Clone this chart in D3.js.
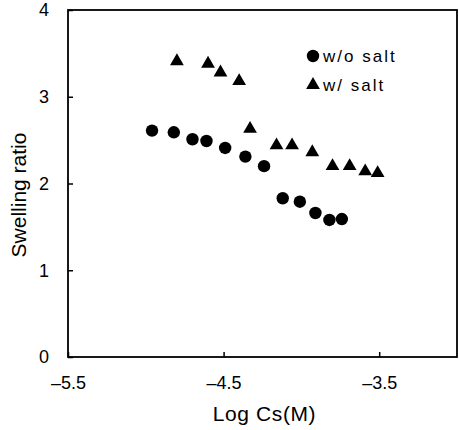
<!DOCTYPE html>
<html>
<head>
<meta charset="utf-8">
<script src="https://cdn.jsdelivr.net/npm/d3@7"></script>
<style>
  html, body { margin: 0; padding: 0; background: #fff; }
  svg { display: block; font-family: "Liberation Sans", Arial, Helvetica, sans-serif; }
</style>
</head>
<body>
<svg id="chart" width="459" height="430"></svg>
<script>
// Swelling ratio vs. log salt concentration
const logCsNoSalt = [-4.96, -4.82, -4.70, -4.61, -4.49, -4.36, -4.24, -4.12, -4.01, -3.91, -3.82, -3.74];
const ratioNoSalt = [2.61, 2.59, 2.51, 2.49, 2.41, 2.31, 2.20, 1.83, 1.79, 1.66, 1.58, 1.59];

const logCsSalt = [-4.80, -4.60, -4.52, -4.40, -4.33, -4.16, -4.06, -3.93, -3.80, -3.69, -3.59, -3.51];
const ratioSalt = [3.41, 3.38, 3.28, 3.18, 2.63, 2.44, 2.44, 2.36, 2.20, 2.20, 2.14, 2.12];

const xTicks = [-5.5, -4.5, -3.5];
const yTicks = [0, 1, 2, 3, 4];
const legendLabels = ["w/o salt", "w/ salt"];

const svg = d3.select("#chart");
const plotLeft = 68, plotRight = 457, plotTop = 10, plotBottom = 357;

const x = d3.scaleLinear().domain([-5.5, -3.0]).range([plotLeft, plotRight]);
const y = d3.scaleLinear().domain([0, 4]).range([plotBottom, plotTop]);

// frame
svg.append("rect")
  .attr("x", plotLeft).attr("y", plotTop)
  .attr("width", plotRight - plotLeft).attr("height", plotBottom - plotTop)
  .attr("fill", "none").attr("stroke", "#000").attr("stroke-width", 1.8);

// x axis: inward ticks, labels below
const fmt = d => d3.format(".1f")(d).replace(/[-\u2212]/, "\u2013");
const xAxis = svg.append("g").attr("transform", `translate(0,${plotBottom})`)
  .call(d3.axisBottom(x).tickValues(xTicks).tickSizeInner(-5).tickSizeOuter(0).tickPadding(19).tickFormat(fmt));
xAxis.select(".domain").remove();
xAxis.selectAll("line").attr("stroke", "#000").attr("stroke-width", 1.5);
xAxis.selectAll("text").attr("font-size", 18).attr("fill", "#000")
  .attr("font-family", "'Liberation Sans', Arial, sans-serif");

// y axis: inward ticks, labels left
const yAxis = svg.append("g").attr("transform", `translate(${plotLeft},0)`)
  .call(d3.axisLeft(y).tickValues(yTicks).tickSizeInner(-5).tickSizeOuter(0).tickPadding(19).tickFormat(d3.format("d")));
yAxis.select(".domain").remove();
yAxis.selectAll("line").attr("stroke", "#000").attr("stroke-width", 1.5);
yAxis.selectAll("text").attr("font-size", 18).attr("fill", "#000")
  .attr("font-family", "'Liberation Sans', Arial, sans-serif");

// axis titles
svg.append("text")
  .attr("x", (plotLeft + plotRight) / 2 + 2).attr("y", 421)
  .attr("text-anchor", "middle").attr("font-size", 21).attr("letter-spacing", 0.6)
  .text("Log Cs(M)");

svg.append("text")
  .attr("transform", `translate(25.5,195) rotate(-90)`)
  .attr("text-anchor", "middle").attr("font-size", 21)
  .text("Swelling ratio");

// series
const noSalt = logCsNoSalt.map((v, i) => ({ x: v, y: ratioNoSalt[i] }));
const salt = logCsSalt.map((v, i) => ({ x: v, y: ratioSalt[i] }));

svg.append("g").selectAll("circle").data(noSalt).join("circle")
  .attr("cx", d => x(d.x)).attr("cy", d => y(d.y)).attr("r", 6.2).attr("fill", "#000");

const tri = d3.symbol().type(d3.symbolTriangle).size(82);
svg.append("g").selectAll("path").data(salt).join("path")
  .attr("transform", d => `translate(${x(d.x)},${y(d.y)})`)
  .attr("d", tri).attr("fill", "#000");

// legend
const lg = svg.append("g");
lg.append("circle").attr("cx", 313).attr("cy", 56).attr("r", 6.2).attr("fill", "#000");
lg.append("path").attr("transform", "translate(313,85)").attr("d", tri).attr("fill", "#000");
lg.selectAll("text").data(legendLabels).join("text")
  .attr("x", 323).attr("y", (d, i) => 62 + i * 28.5)
  .attr("font-size", 17).attr("letter-spacing", 2)
  .text(d => d);
</script>
</body>
</html>
